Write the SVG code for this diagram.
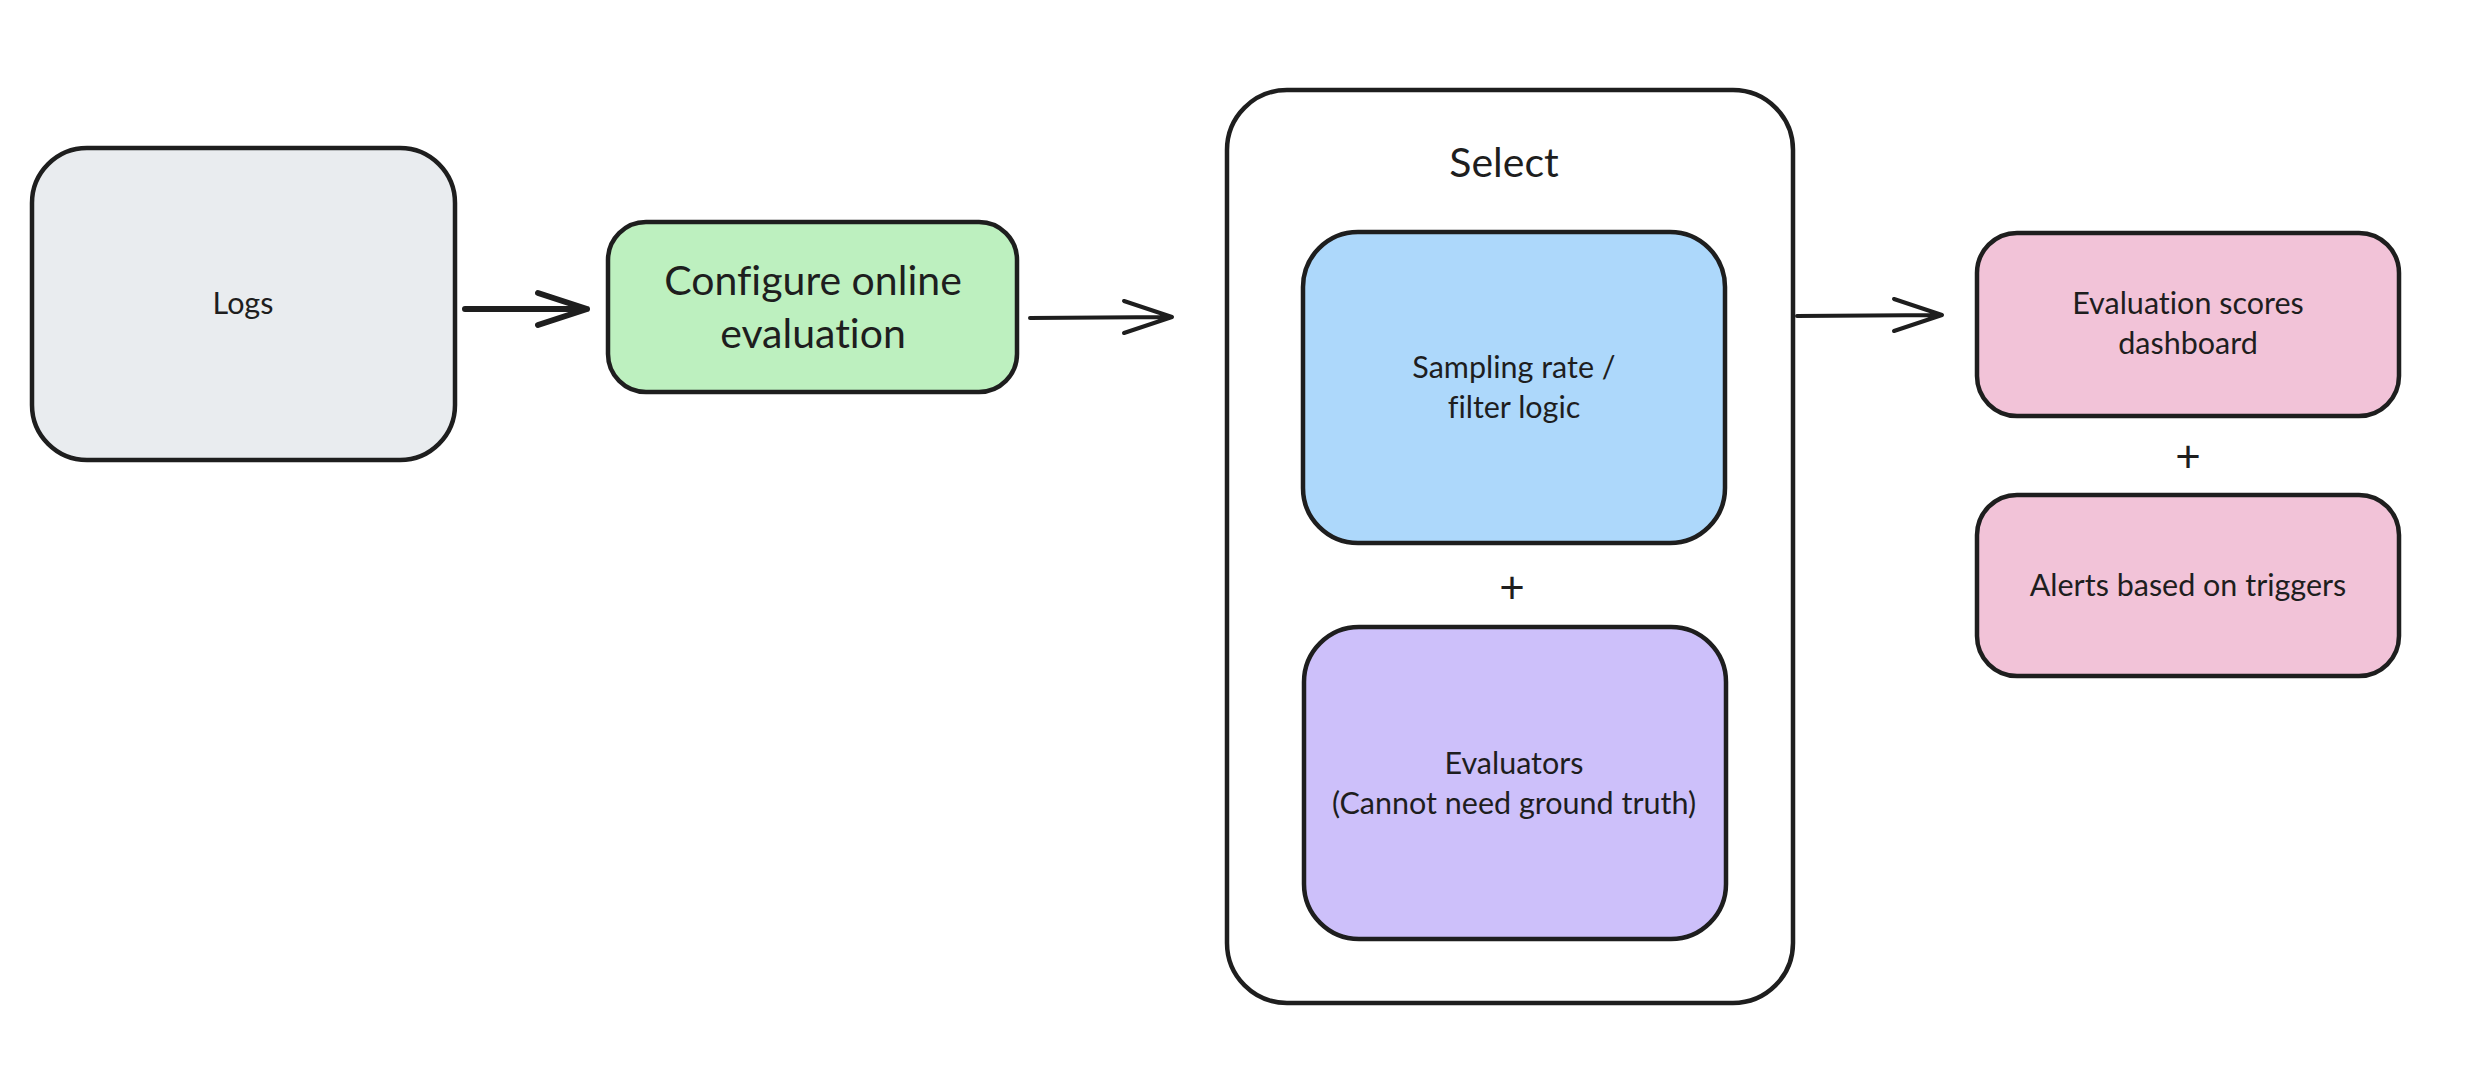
<svg xmlns="http://www.w3.org/2000/svg" width="2488" height="1090" viewBox="0 0 2488 1090">
<defs>
<style>
.box{stroke:#1e1e1e;stroke-width:4.5;stroke-linejoin:round}
.t{font-family:"Lato","Open Sans",sans-serif;fill:#1e1e1e;text-anchor:middle;font-size:30.5px;font-variant-ligatures:none}
.big{font-size:41px}
.plus{font-size:44px}
.conn{stroke:#1e1e1e;stroke-width:4;fill:none;stroke-linecap:round;stroke-linejoin:round}
</style>
</defs>
<rect width="2488" height="1090" fill="#ffffff"/>
<g id="logs">
<rect class="box" x="32" y="148" width="423" height="312" rx="55" fill="#e9ecef"/>
<text class="t" x="243" y="314">Logs</text>
</g>
<g id="configure">
<rect class="box" x="608" y="222" width="409" height="170" rx="38" fill="#bdf0bf"/>
<text class="t big" x="813" y="295">Configure online</text>
<text class="t big" x="813" y="348">evaluation</text>
</g>
<g id="select">
<rect class="box" x="1227" y="90" width="566" height="913" rx="60" fill="#ffffff"/>
<text class="t big" x="1504" y="177">Select</text>
</g>
<g id="sampling">
<rect class="box" x="1303" y="232" width="422" height="311" rx="55" fill="#add8fb"/>
<text class="t" x="1514" y="378">Sampling rate /</text>
<text class="t" x="1514" y="418">filter logic</text>
</g>
<text class="t plus" x="1512" y="603">+</text>
<g id="evaluators">
<rect class="box" x="1304" y="627" width="422" height="312" rx="55" fill="#cdc0fa"/>
<text class="t" x="1514" y="774">Evaluators</text>
<text class="t" x="1514" y="814">(Cannot need ground truth)</text>
</g>
<g id="scores">
<rect class="box" x="1977" y="233" width="422" height="183" rx="40" fill="#f2c3d8"/>
<text class="t" x="2188" y="314">Evaluation scores</text>
<text class="t" x="2188" y="354">dashboard</text>
</g>
<text class="t plus" x="2188" y="472">+</text>
<g id="alerts">
<rect class="box" x="1977" y="495" width="422" height="181" rx="40" fill="#f2c3d8"/>
<text class="t" x="2188" y="596">Alerts based on triggers</text>
</g>
<g id="connectors">
<path class="conn" style="stroke-width:6" d="M465 309 L587 309 M538 293 L587 309 L538 325"/>
<path class="conn" d="M1030 318 L1172 317 M1124 301 L1172 317 L1124 333"/>
<path class="conn" d="M1797 316 L1942 315 M1894 299 L1942 315 L1894 331"/>
</g>
</svg>
